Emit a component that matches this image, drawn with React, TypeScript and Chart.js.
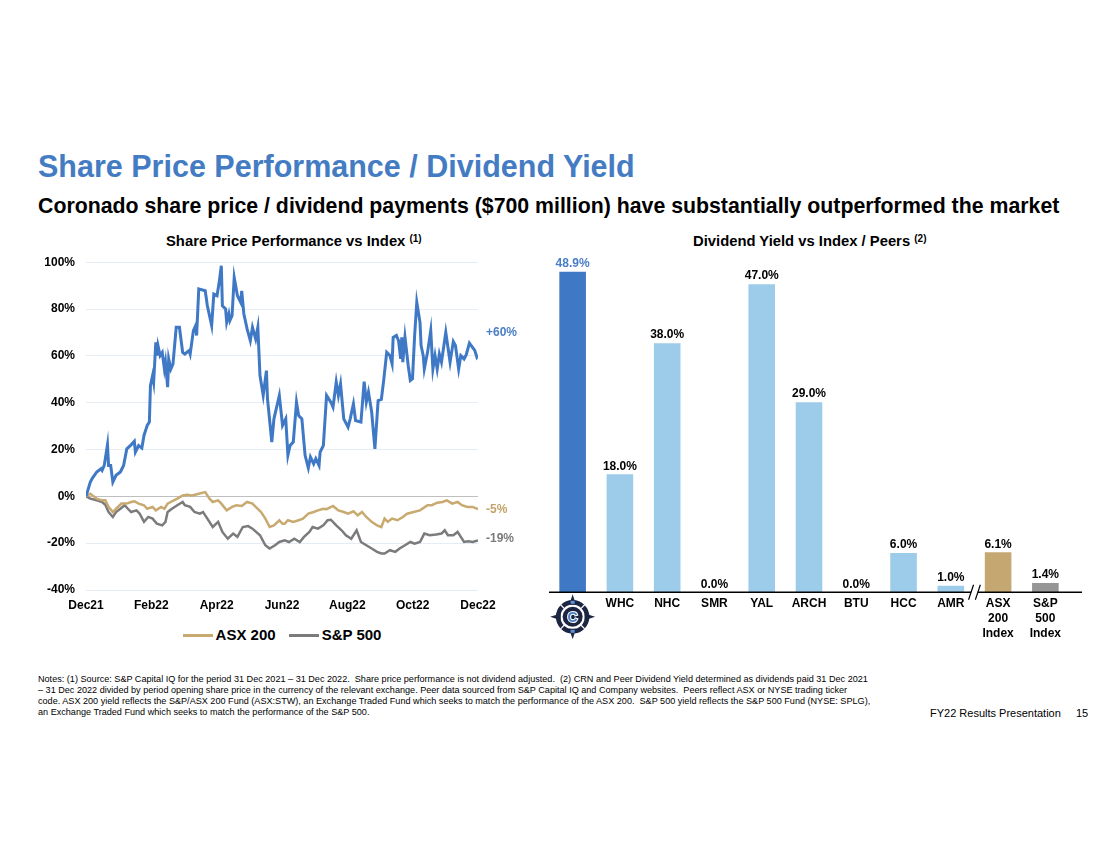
import React, { useEffect, useRef } from "react";
import { Chart, registerables } from "chart.js";

Chart.register(...registerables);

const FONT = "'Liberation Sans', Arial, Helvetica, sans-serif";
Chart.defaults.font.family = FONT;

// ---------- Share price performance (% change since 31 Dec 2021) ----------
const xTickLabels = ["Dec21", "Feb22", "Apr22", "Jun22", "Aug22", "Oct22", "Dec22"];
const periodDays = 365;

const crnDays = [0, 4, 6, 10, 14, 15, 17, 20, 21, 23, 25, 28, 32, 35, 38, 42, 45, 46, 49, 52, 54, 57, 59, 60, 62, 63, 65, 66, 67, 69, 71, 73, 74, 76, 77, 79, 81, 84, 87, 90, 92, 96, 97, 100, 102, 103, 105, 111, 113, 117, 119, 122, 124, 126, 127, 130, 131, 133, 134, 136, 138, 141, 144, 145, 147, 150, 153, 155, 158, 160, 162, 165, 168, 169, 173, 175, 180, 183, 186, 188, 190, 193, 196, 198, 201, 204, 207, 209, 212, 214, 217, 218, 221, 224, 228, 230, 233, 235, 237, 240, 244, 246, 249, 251, 256, 259, 261, 263, 266, 269, 272, 275, 277, 280, 283, 285, 286, 289, 291, 293, 294, 295, 297, 300, 302, 304, 306, 308, 311, 312, 314, 315, 318, 321, 323, 325, 327, 329, 331, 335, 339, 342, 344, 347, 349, 352, 354, 357, 362, 364, 365];
const crnValues = [0, 6.1, 7.8, 10.4, 11.8, 11.1, 13.2, 22.0, 13.2, 13.2, 6.1, 9.0, 10.4, 13.2, 20.3, 22.0, 23.5, 18.9, 21.7, 20.6, 26.0, 30.3, 31.7, 47.3, 51.6, 48.8, 65.8, 60.1, 64.4, 60.1, 61.5, 54.4, 57.3, 46.6, 58.7, 54.4, 56.6, 72.2, 72.2, 61.5, 60.8, 62.3, 60.8, 70.8, 72.9, 68.7, 88.6, 87.8, 81.4, 72.9, 86.4, 85.7, 91.4, 98.5, 81.4, 80.0, 74.3, 77.9, 75.1, 77.2, 93.5, 85.7, 82.9, 87.8, 77.9, 71.5, 66.5, 72.2, 67.2, 72.2, 51.6, 43.1, 53.7, 41.6, 23.2, 33.1, 43.1, 30.3, 33.1, 17.5, 21.7, 23.2, 40.2, 34.5, 33.1, 17.5, 12.1, 16.8, 13.9, 16.1, 13.2, 18.9, 21.7, 43.1, 40.2, 38.1, 48.8, 43.1, 48.0, 33.1, 29.6, 33.1, 39.5, 32.4, 31.7, 49.0, 40.2, 44.5, 36.0, 20.3, 40.9, 41.4, 48.8, 61.5, 60.1, 56.6, 67.9, 68.7, 66.5, 58.7, 67.9, 57.3, 67.9, 55.9, 49.5, 50.2, 68.7, 82.9, 74.3, 64.4, 60.1, 54.4, 61.5, 70.8, 54.4, 60.1, 54.4, 60.8, 57.3, 70.1, 57.3, 66.1, 64.4, 54.4, 60.1, 58.7, 60.4, 65.4, 62.3, 59.4, 60.0];

const asxDays = [0, 4, 10, 15, 18, 21, 25, 28, 33, 38, 42, 45, 49, 54, 57, 62, 65, 70, 73, 76, 80, 85, 90, 94, 99, 105, 111, 115, 118, 123, 126, 131, 136, 140, 145, 150, 155, 158, 163, 167, 171, 175, 180, 183, 185, 188, 193, 198, 202, 207, 212, 216, 221, 224, 230, 235, 240, 244, 249, 253, 257, 261, 266, 271, 275, 278, 281, 285, 290, 295, 299, 305, 311, 318, 322, 327, 332, 336, 341, 346, 350, 355, 360, 365];
const asxValues = [0, 1.1, -1.0, -1.7, -1.7, -4.5, -6.7, -5.3, -3.1, -3.1, -2.4, -2.1, -3.1, -3.8, -5.3, -4.5, -6.0, -4.5, -5.3, -3.1, -2.1, -1.0, 0.4, 0.7, 0.4, 1.1, 1.8, -1.0, -2.4, -1.7, -3.1, -6.0, -4.5, -3.8, -4.1, -2.4, -3.1, -4.5, -6.7, -9.5, -13.1, -12.4, -10.2, -11.7, -11.7, -10.2, -10.9, -10.2, -9.5, -7.4, -6.7, -6.0, -5.3, -5.5, -4.1, -6.0, -6.7, -7.4, -6.4, -8.1, -6.7, -8.8, -10.9, -12.4, -13.1, -9.5, -10.9, -9.5, -10.2, -8.8, -7.4, -6.7, -6.0, -3.8, -3.8, -2.7, -2.4, -1.7, -3.1, -2.4, -3.8, -4.5, -4.5, -5.5];

const spxDays = [0, 4, 10, 15, 18, 21, 25, 28, 32, 36, 39, 42, 47, 50, 54, 58, 62, 66, 71, 74, 76, 80, 85, 90, 92, 97, 101, 106, 109, 113, 118, 123, 127, 132, 137, 141, 146, 151, 155, 162, 167, 171, 176, 180, 185, 189, 194, 199, 203, 208, 211, 216, 221, 225, 228, 233, 238, 242, 247, 252, 256, 261, 266, 271, 275, 278, 283, 288, 292, 297, 302, 306, 311, 315, 320, 326, 331, 334, 337, 342, 346, 349, 352, 356, 360, 365];
const spxValues = [0, -1.0, -1.7, -2.4, -3.6, -6.7, -8.8, -6.7, -5.3, -3.8, -5.3, -6.7, -6.0, -7.4, -10.9, -8.8, -9.5, -11.7, -12.4, -10.9, -6.7, -5.3, -3.8, -2.4, -3.8, -4.5, -6.7, -7.4, -6.7, -9.5, -13.1, -10.9, -15.2, -18.1, -15.9, -17.3, -13.1, -12.7, -13.8, -16.6, -20.9, -22.3, -20.9, -19.5, -18.8, -19.5, -18.1, -19.5, -17.3, -15.2, -13.1, -13.8, -12.4, -10.2, -10.0, -12.4, -14.5, -16.6, -18.1, -14.5, -19.5, -20.9, -22.3, -23.7, -24.4, -24.4, -23.0, -23.7, -22.3, -20.9, -19.5, -20.2, -19.5, -15.9, -16.6, -16.3, -15.9, -14.5, -16.6, -16.6, -15.2, -17.3, -19.5, -19.2, -19.5, -18.8];

const seriesNames = ["Coronado", "ASX 200", "S&P 500"];
const endLabels = ["+60%", "-5%", "-19%"];

// ---------- Dividend yield ----------
const barCategories: (string | string[])[] = ["CRN", "WHC", "NHC", "SMR", "YAL", "ARCH", "BTU", "HCC", "AMR", ["ASX", "200", "Index"], ["S&P", "500", "Index"]];
const barValues = [48.9, 18.0, 38.0, 0.0, 47.0, 29.0, 0.0, 6.0, 1.0, 6.1, 1.4];

// ---------- styles ----------
const TITLE_BLUE = "#447CC4";
const CRN_BLUE = "#3F79C6";
const LABEL_BLUE = "#4A7EC7";
const LIGHT_BLUE = "#9DCBEA";
const TAN = "#C8A96F";
const TAN_TEXT = "#C4A46B";
const GRAY = "#7B7B7B";
const BAR_GRAY = "#959595";
const NAVY = "#1C2541";
const seriesColors = [CRN_BLUE, TAN, GRAY];

const toPts = (d: number[], v: number[]) => d.map((x, i) => ({ x, y: v[i] }));

function LineChart() {
  const ref = useRef<HTMLCanvasElement>(null);
  useEffect(() => {
    const labelColors = [LABEL_BLUE, TAN_TEXT, GRAY];
    const labelOffsets = [-23, 0, -2];
    const endLabelPlugin = {
      id: "endLabels",
      afterDatasetsDraw(chart: any) {
        const { ctx, chartArea } = chart;
        ctx.save();
        ctx.font = `bold 12px ${FONT}`;
        ctx.textBaseline = "middle";
        ctx.textAlign = "left";
        chart.data.datasets.forEach((_: any, i: number) => {
          const meta = chart.getDatasetMeta(i);
          const last = meta.data[meta.data.length - 1];
          ctx.fillStyle = labelColors[i];
          ctx.fillText(endLabels[i], chartArea.right + 8, last.y + labelOffsets[i]);
        });
        ctx.restore();
      },
    };
    const chart = new Chart(ref.current as HTMLCanvasElement, {
      type: "line",
      data: {
        datasets: [
          { label: seriesNames[0], data: toPts(crnDays, crnValues), borderColor: seriesColors[0], backgroundColor: seriesColors[0], borderWidth: 3, pointRadius: 0, tension: 0, order: 0 },
          { label: seriesNames[1], data: toPts(asxDays, asxValues), borderColor: seriesColors[1], backgroundColor: seriesColors[1], borderWidth: 2.5, pointRadius: 0, tension: 0, order: 1 },
          { label: seriesNames[2], data: toPts(spxDays, spxValues), borderColor: seriesColors[2], backgroundColor: seriesColors[2], borderWidth: 2.5, pointRadius: 0, tension: 0, order: 2 },
        ],
      },
      options: {
        responsive: false,
        animation: false,
        layout: { padding: { top: 6, right: 62, left: 0, bottom: 0 } },
        plugins: {
          legend: { display: false },
          tooltip: { enabled: false },
        },
        scales: {
          x: {
            type: "linear",
            min: 0,
            max: periodDays,
            afterBuildTicks: (s: any) => {
              s.ticks = xTickLabels.map((_, i) => ({ value: (i * periodDays) / (xTickLabels.length - 1) }));
            },
            afterFit: (s: any) => {
              s.height = 30;
            },
            ticks: {
              autoSkip: false,
              maxRotation: 0,
              callback: (_v: any, i: number) => xTickLabels[i],
              font: { size: 12, weight: "bold" },
              color: "#000",
              padding: 8,
            },
            grid: { display: false, drawTicks: false },
            border: { display: false },
          },
          y: {
            min: -40,
            max: 100,
            afterFit: (s: any) => {
              s.width = 56;
            },
            ticks: {
              stepSize: 20,
              callback: (v: any) => `${v}%`,
              font: { size: 12, weight: "bold" },
              color: "#000",
              padding: 11,
            },
            grid: {
              color: (c: any) => (c.tick && c.tick.value === 0 ? "#BFBFBF" : "#E5ECF4"),
              drawTicks: false,
              lineWidth: 1,
            },
            border: { display: false },
          },
        },
      } as any,
      plugins: [endLabelPlugin],
    });
    return () => chart.destroy();
  }, []);
  return <canvas ref={ref} width={510} height={376} style={{ display: "block" }} />;
}

function drawLogo(ctx: CanvasRenderingContext2D, cx: number, cy: number) {
  ctx.save();
  ctx.fillStyle = NAVY;
  for (let k = 0; k < 4; k++) {
    ctx.save();
    ctx.translate(cx, cy);
    ctx.rotate((k * Math.PI) / 2);
    ctx.beginPath();
    ctx.moveTo(0, -22.5);
    ctx.lineTo(3.4, -12);
    ctx.lineTo(-3.4, -12);
    ctx.closePath();
    ctx.fill();
    ctx.restore();
  }
  ctx.beginPath();
  ctx.arc(cx, cy, 14.5, 0, Math.PI * 2);
  ctx.lineWidth = 4.5;
  ctx.strokeStyle = NAVY;
  ctx.stroke();
  ctx.strokeStyle = "#fff";
  ctx.lineWidth = 1.2;
  for (let k = 0; k < 4; k++) {
    const a = Math.PI / 4 + (k * Math.PI) / 2;
    ctx.beginPath();
    ctx.moveTo(cx + Math.cos(a) * 12, cy + Math.sin(a) * 12);
    ctx.lineTo(cx + Math.cos(a) * 17, cy + Math.sin(a) * 17);
    ctx.stroke();
  }
  ctx.fillStyle = "#5E92D8";
  ctx.fillRect(cx - 2, cy - 16, 4, 3);
  ctx.fillRect(cx - 2, cy + 13, 4, 3);
  ctx.beginPath();
  ctx.arc(cx, cy, 10, 0, Math.PI * 2);
  ctx.fillStyle = NAVY;
  ctx.fill();
  ctx.font = `bold 14px ${FONT}`;
  ctx.textAlign = "center";
  ctx.textBaseline = "middle";
  ctx.lineWidth = 2;
  ctx.strokeStyle = "#fff";
  ctx.strokeText("C", cx, cy + 1);
  ctx.fillStyle = "#4A7EC7";
  ctx.fillText("C", cx, cy + 1);
  ctx.restore();
}

function BarChart() {
  const ref = useRef<HTMLCanvasElement>(null);
  useEffect(() => {
    const colors = barValues.map((_, i) => (i === 0 ? CRN_BLUE : i === 9 ? "#C5A772" : i === 10 ? BAR_GRAY : LIGHT_BLUE));
    const barLabelPlugin = {
      id: "barLabels",
      afterDatasetsDraw(chart: any) {
        const { ctx } = chart;
        const meta = chart.getDatasetMeta(0);
        ctx.save();
        ctx.font = `bold 12px ${FONT}`;
        ctx.textAlign = "center";
        ctx.textBaseline = "middle";
        meta.data.forEach((bar: any, i: number) => {
          ctx.fillStyle = i === 0 ? LABEL_BLUE : "#000";
          ctx.fillText(`${barValues[i].toFixed(1)}%`, bar.x, bar.y - 8);
        });
        ctx.restore();
      },
    };
    const axisDecorPlugin = {
      id: "axisDecor",
      afterDraw(chart: any) {
        const { ctx, chartArea, scales } = chart;
        const xs = scales.x;
        const yb = chartArea.bottom;
        ctx.save();
        ctx.strokeStyle = "#000";
        ctx.lineWidth = 1.5;
        ctx.beginPath();
        ctx.moveTo(chartArea.left, yb);
        ctx.lineTo(chartArea.right + 13, yb);
        ctx.stroke();
        const bx = (xs.getPixelForValue(8) + xs.getPixelForValue(9)) / 2;
        ctx.fillStyle = "#fff";
        ctx.fillRect(bx - 3.4, yb - 3, 6.8, 6);
        ctx.lineWidth = 1.2;
        [-3.4, 3.4].forEach((dx) => {
          ctx.beginPath();
          ctx.moveTo(bx + dx - 2.5, yb + 7.5);
          ctx.lineTo(bx + dx + 2.5, yb - 7.5);
          ctx.stroke();
        });
        drawLogo(ctx, xs.getPixelForValue(0), yb + 24.5);
        ctx.restore();
      },
    };
    const chart = new Chart(ref.current as HTMLCanvasElement, {
      type: "bar",
      data: {
        labels: barCategories,
        datasets: [{ label: "Dividend yield", data: barValues, backgroundColor: colors, borderWidth: 0, barPercentage: 0.75, categoryPercentage: 0.75 }],
      },
      options: {
        responsive: false,
        animation: false,
        layout: { padding: { top: 14.5, right: 31, left: 9, bottom: 0 } },
        plugins: { legend: { display: false }, tooltip: { enabled: false } },
        scales: {
          x: {
            afterFit: (s: any) => {
              s.height = 57.7;
            },
            ticks: {
              autoSkip: false,
              maxRotation: 0,
              callback: (_v: any, i: number) => (i === 0 ? "" : barCategories[i]),
              font: { size: 12, weight: "bold", lineHeight: 1.25 },
              color: "#000",
              padding: 4,
            },
            grid: { display: false, drawTicks: false },
            border: { display: false },
          },
          y: { display: false, min: 0, max: 50 },
        },
      } as any,
      plugins: [barLabelPlugin, axisDecorPlugin],
    });
    return () => chart.destroy();
  }, []);
  return <canvas ref={ref} width={560} height={400} style={{ display: "block" }} />;
}

const notes = [
  "Notes: (1) Source: S&P Capital IQ for the period 31 Dec 2021 – 31 Dec 2022.  Share price performance is not dividend adjusted.  (2) CRN and Peer Dividend Yield determined as dividends paid 31 Dec 2021",
  "– 31 Dec 2022 divided by period opening share price in the currency of the relevant exchange. Peer data sourced from S&P Capital IQ and Company websites.  Peers reflect ASX or NYSE trading ticker",
  "code. ASX 200 yield reflects the S&P/ASX 200 Fund (ASX:STW), an Exchange Traded Fund which seeks to match the performance of the ASX 200.  S&P 500 yield reflects the S&P 500 Fund (NYSE: SPLG),",
  "an Exchange Traded Fund which seeks to match the performance of the S&P 500.",
];

const abs = (left: number, top: number, extra: React.CSSProperties = {}): React.CSSProperties => ({
  position: "absolute",
  left,
  top,
  whiteSpace: "pre",
  ...extra,
});

export default function App() {
  return (
    <div style={{ position: "absolute", left: 0, top: 0, width: 1100, height: 849, background: "#fff", fontFamily: FONT, overflow: "hidden" }}>
      <div style={abs(38, 151, { fontSize: 30.5, lineHeight: "30.5px", fontWeight: 700, color: TITLE_BLUE })}>Share Price Performance / Dividend Yield</div>
      <div style={abs(38, 196, { fontSize: 21.3, lineHeight: "21.3px", fontWeight: 700, color: "#000" })}>
        Coronado share price / dividend payments ($700 million) have substantially outperformed the market
      </div>
      <div style={abs(166, 233.5, { fontSize: 14.8, lineHeight: "14.8px", fontWeight: 700, color: "#000" })}>
        Share Price Performance vs Index <span style={{ fontSize: 10, position: "relative", top: -4 }}>(1)</span>
      </div>
      <div style={abs(693, 233.5, { fontSize: 14.8, lineHeight: "14.8px", fontWeight: 700, color: "#000" })}>
        Dividend Yield vs Index / Peers <span style={{ fontSize: 10, position: "relative", top: -4 }}>(2)</span>
      </div>
      <div style={abs(30, 244)}>
        <LineChart />
      </div>
      <div style={{ position: "absolute", left: 0, top: 627, width: 564, display: "flex", justifyContent: "center", alignItems: "center", fontSize: 15, lineHeight: "16px", fontWeight: 700, color: "#000" }}>
        {seriesNames.slice(1).map((name, i) => (
          <div key={name} style={{ display: "flex", alignItems: "center", marginLeft: i === 0 ? 0 : 13 }}>
            <span style={{ display: "inline-block", width: 30, height: 3, background: seriesColors[i + 1], marginRight: 3 }} />
            <span>{name}</span>
          </div>
        ))}
      </div>
      <div style={abs(540, 250)}>
        <BarChart />
      </div>
      {notes.map((t, i) => (
        <div key={i} style={abs(38, 673.5 + i * 11, { fontSize: 9.1, lineHeight: "11px", color: "#000" })}>
          {t}
        </div>
      ))}
      <div style={abs(930, 707, { fontSize: 11, lineHeight: "12px", color: "#000" })}>FY22 Results Presentation</div>
      <div style={abs(1076, 707, { fontSize: 11, lineHeight: "12px", color: "#000" })}>15</div>
    </div>
  );
}
